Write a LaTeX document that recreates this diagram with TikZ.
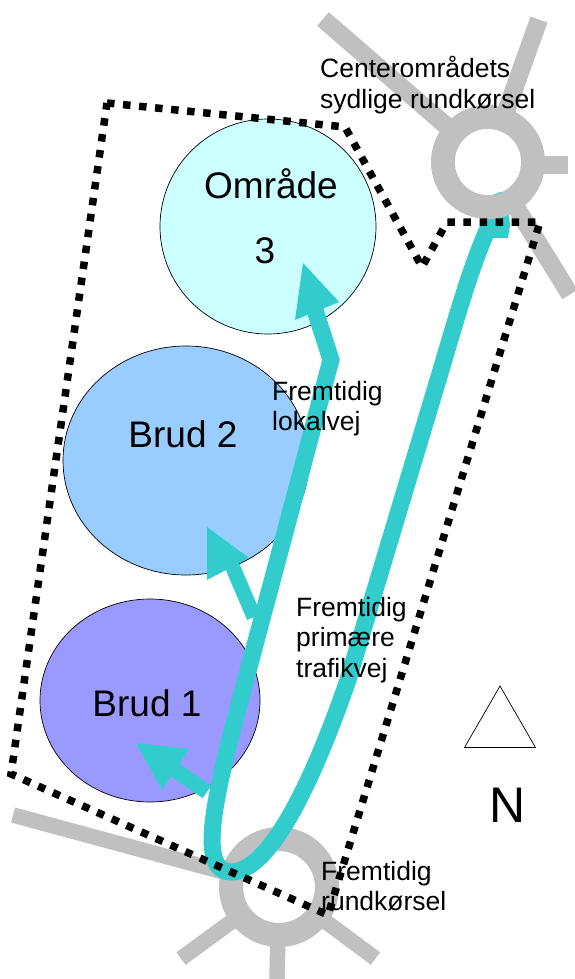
\documentclass[tikz,border=0pt]{standalone}
\usepackage{fontspec}
\setmainfont{Liberation Sans}
\usetikzlibrary{shapes.geometric}
\definecolor{roadgrey}{HTML}{C0C0C0}
\definecolor{teal1}{HTML}{33CCCC}
\tikzset{
  area/.style={draw=black,line width=0.7pt,ellipse,inner sep=0pt,outer sep=0pt},
  road/.style={draw=roadgrey,line width=18pt},
  ring/.style={draw=roadgrey,line width=24pt,circle,fill=white,inner sep=0pt,outer sep=0pt},
  teal road/.style={draw=teal1,line width=17pt,miter limit=10},
  teal shaft/.style={draw=teal1,line width=15pt},
  teal head/.style={fill=teal1},
  boundary/.style={draw=black,line width=7.5pt,dash pattern=on 7.5pt off 8.6pt},
  big/.style={font=\fontsize{37}{44}\selectfont,inner sep=0pt},
  small/.style={font=\fontsize{26.5}{30.5}\selectfont,align=left,inner sep=0pt,anchor=north west},
}
\begin{document}
\begin{tikzpicture}[x=1pt,y=-1pt]
\useasboundingbox (0,0) rectangle (575,979);
\fill[white] (0,0) rectangle (575,979);
% areas
\node[area,fill={rgb,255:red,204;green,255;blue,255},minimum width=216pt,minimum height=215pt] (omr) at (268,226.5) {};
\node[area,fill={rgb,255:red,153;green,204;blue,255},minimum width=246pt,minimum height=229pt] (br2) at (186,460.5) {};
\node[area,fill={rgb,255:red,153;green,153;blue,255},minimum width=220pt,minimum height=203pt] (br1) at (150,700.5) {};
% bottom roundabout
\coordinate (rbs) at (279,887);
\coordinate (sw) at (13,815);
\coordinate (ssw) at (181,958.5);
\coordinate (ss) at (277,979);
\coordinate (sse) at (375.5,958.5);
\draw[road,line width=15.5pt] (sw) -- (rbs);
\draw[road,line width=15.5pt] (ssw) -- (rbs);
\draw[road,line width=15.5pt] (ss) -- (rbs);
\draw[road,line width=15.5pt] (sse) -- (rbs);
\node[ring,minimum size=96pt] (rings) at (rbs) {};
% teal roads
\coordinate (a1) at (315,310);
\coordinate (bend) at (331,360);
\coordinate (l1) at (231,735);
\coordinate (bot) at (231,872);
\coordinate (r1) at (348,680);
\coordinate (r2) at (438,380);
\coordinate (top) at (495,215);
\draw[teal road] (a1) -- (bend) -- (l1) .. controls (215,800) and (198,872) .. (bot)
   .. controls (268,872) and (310,790) .. (r1) -- (r2) .. controls (456,320) and (475,250) .. (top);
\draw[teal shaft] (254,617) -- (228,556);
\draw[teal shaft] (207,792) -- (175,770);
\fill[teal head] (303,263) -- (339,302) -- (295,320) -- cycle;
\fill[teal head] (207,527) -- (249,558) -- (207,580) -- cycle;
\fill[teal head] (136,743) -- (189,749) -- (162,790) -- cycle;
\fill[teal head] (490,238) -- (508,238) -- (510,225) -- (507,195) -- (500,192) -- (493,195) -- cycle;
% top roundabout
\coordinate (rbn) at (488,162);
\coordinate (nw) at (323,19);
\coordinate (ne) at (539,19.5);
\coordinate (e) at (568,164.5);
\coordinate (se) at (570,294.5);
\draw[road] (nw) -- (rbn);
\draw[road] (ne) -- (rbn);
\draw[road] (e) -- (488,164.5);
\draw[road] (se) -- (rbn);
\node[ring,fill=none,minimum size=90pt] (ringn) at (rbn) {};
\fill[white] (ringn) circle (33pt);
\begin{scope}
\clip (rbn) circle (33.5pt);
\fill[teal head] (490,238) -- (508,238) -- (510,225) -- (507,195) -- (500,192) -- (493,195) -- cycle;
\end{scope}
% boundary
\draw[boundary] (107,103) -- (345,127) -- (422,267) -- (447,222) -- (540,222) -- (328,915) -- (11,774) -- cycle;
% north sign
\node[draw=black,line width=0.7pt,fill=white,regular polygon,regular polygon sides=3,minimum size=82pt,inner sep=0pt,outer sep=0pt] (tri) at (500,727) {};
% labels
\node[big,anchor=base] (lomr) at (271,198) {Område};
\node[big,anchor=base] (l3) at (265,263) {3};
\node[big,anchor=base] (lb2) at (183,447) {Brud 2};
\node[big,anchor=base] (lb1) at (147,716) {Brud 1};
\node[font=\fontsize{50}{60}\selectfont,inner sep=0pt,anchor=base] (ln) at (508,822) {N};
\node[small] (t1) at (320,56) {Centerområdets\\sydlige rundkørsel};
\node[small] (t2) at (272,381) {Fremtidig\\lokalvej};
\node[small] (t3) at (296,597) {Fremtidig\\primære\\trafikvej};
\node[small] (t4) at (321,861) {Fremtidig\\rundkørsel};
\end{tikzpicture}
\end{document}
